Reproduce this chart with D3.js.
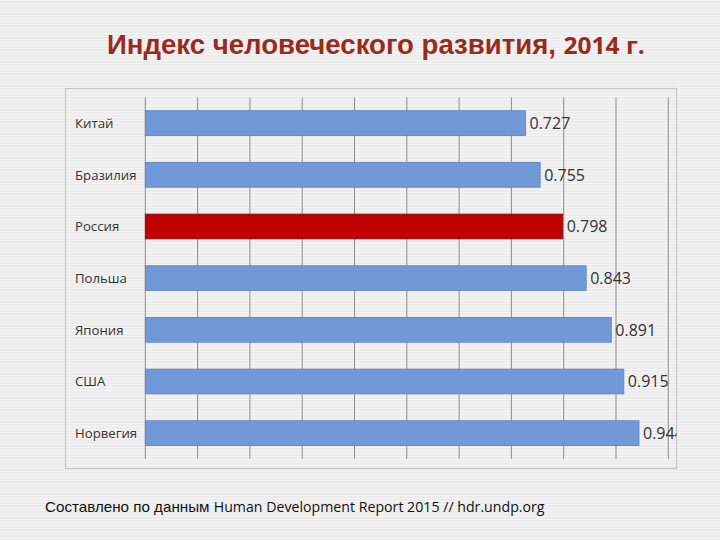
<!DOCTYPE html>
<html><head><meta charset="utf-8">
<script src="https://cdn.jsdelivr.net/npm/d3@7/dist/d3.min.js"></script>
<style>html,body{margin:0;padding:0;background:#eeeeee;}</style>
</head><body>
<svg id="c" width="720" height="540"></svg>
<script>
const categories = ["Китай","Бразилия","Россия","Польша","Япония","США","Норвегия"];
const values = [0.727,0.755,0.798,0.843,0.891,0.915,0.944];
const highlight = ["Россия"];
const xTicks = [0,0.1,0.2,0.3,0.4,0.5,0.6,0.7,0.8,0.9,1.0];
const titleMain = "Индекс человеческого развития, ";
const titleYear = "2014 г.";
const footerRu = "Составлено по данным ";
const footerEn = "Human Development Report 2015 // hdr.undp.org";

const svg = d3.select("#c");
const defs = svg.append("defs");
const pat = defs.append("pattern").attr("id","stripes").attr("width",4).attr("height",3).attr("patternUnits","userSpaceOnUse");
pat.append("rect").attr("width",4).attr("height",3).attr("fill","#ececec");
pat.append("rect").attr("y",0).attr("width",4).attr("height",1).attr("fill","#f5f5f5");
svg.append("rect").attr("width",720).attr("height",540).attr("fill","url(#stripes)");

// plot box
const box = {x:65.5,y:88.5,w:611,h:380};
svg.append("rect").attr("x",box.x).attr("y",box.y).attr("width",box.w).attr("height",box.h)
  .attr("fill","none").attr("stroke","#c6c6c6").attr("stroke-width",1.2);
defs.append("clipPath").attr("id","clip").append("rect")
  .attr("x",box.x).attr("y",box.y).attr("width",box.w).attr("height",box.h);

const x = d3.scaleLinear().domain([0,1]).range([145.3,668.3]);
const y = d3.scaleBand().domain(categories).range([97.3,459]).paddingInner(0.52).paddingOuter(0.26);

const g = svg.append("g").attr("clip-path","url(#clip)");
g.append("g").selectAll("line").data(xTicks).join("line")
  .attr("x1",d=>x(d)).attr("x2",d=>x(d)).attr("y1",97.3).attr("y2",459)
  .attr("stroke","#8c8c8c").attr("stroke-width",1);

g.append("g").selectAll("rect").data(categories).join("rect")
  .attr("x",x(0)).attr("y",d=>y(d)).attr("height",y.bandwidth())
  .attr("width",(d,i)=>x(values[i])-x(0))
  .attr("fill",d=>highlight.includes(d)?"#c00000":"#7199d8")
  .attr("stroke",d=>highlight.includes(d)?"#7a1010":"#5f80b8").attr("stroke-width",0.8);

g.append("g").selectAll("text").data(categories).join("text")
  .attr("x",(d,i)=>x(values[i])+4).attr("y",d=>y(d)+y.bandwidth()/2)
  .attr("dy","0.36em").attr("font-family","'Open Sans', sans-serif").attr("font-size",16)
  .attr("fill","#333").text((d,i)=>values[i].toFixed(3));

svg.append("g").selectAll("text").data(categories).join("text")
  .attr("x",75).attr("y",d=>y(d)+y.bandwidth()/2).attr("dy","0.36em")
  .attr("font-family","'Open Sans', sans-serif").attr("font-size",13.2).attr("fill","#333")
  .text(d=>d);

// title
const tt = svg.append("text").attr("x",107).attr("y",54)
  .attr("font-weight","bold").attr("font-size",27).attr("fill","#9b2a1e");
tt.append("tspan").attr("font-family","'Liberation Sans', Arial, sans-serif").text(titleMain);
tt.append("tspan").attr("font-family","'Open Sans', sans-serif").attr("font-size",24).text(titleYear);
{
  const w = tt.node().getComputedTextLength();
  const target = 538;
  if (w > 0) tt.attr("transform",`translate(107,0) scale(${target/w},1) translate(-107,0)`);
}

// footer
const ft = svg.append("text").attr("x",45).attr("y",512).attr("font-size",15).attr("fill","#111");
ft.append("tspan").attr("font-family","'Liberation Sans', Arial, sans-serif").text(footerRu);
ft.append("tspan").attr("font-family","'Open Sans', sans-serif").attr("font-size",14).text(footerEn);
{
  const w = ft.node().getComputedTextLength();
  const target = 500;
  if (w > 0) ft.attr("transform",`translate(45,0) scale(${target/w},1) translate(-45,0)`);
}
</script>
</body></html>
